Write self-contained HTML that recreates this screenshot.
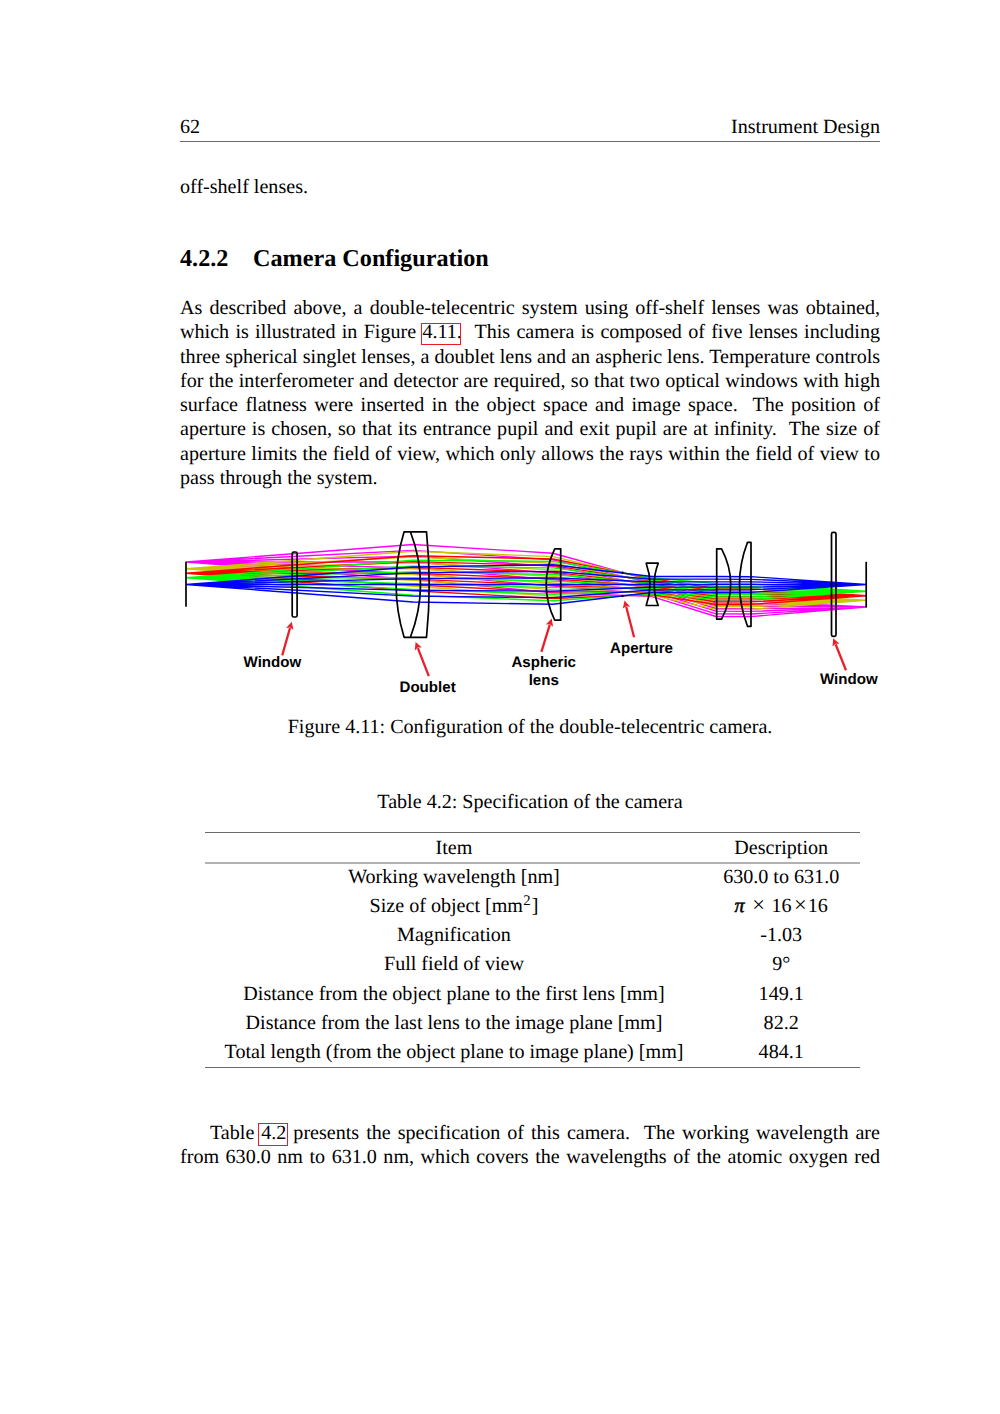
<!DOCTYPE html>
<html><head><meta charset="utf-8"><style>
html,body{margin:0;padding:0;background:#fff;}
body{width:1000px;height:1414px;position:relative;overflow:hidden;text-rendering:geometricPrecision;font-variant-ligatures:common-ligatures discretionary-ligatures;font-family:"Liberation Serif","Times New Roman",serif;color:#000;}
.l{position:absolute;white-space:nowrap;}
.c{text-align:center;}
.b{font-weight:bold;}
.rule{position:absolute;}
.lk{}
.pi{-webkit-text-stroke:0.5px #000;}
.mx{font-size:1.12em;line-height:0;}
.bx{position:absolute;box-sizing:border-box;border:1.3px solid #ec1c24;}
sup{font-size:73%;line-height:0;vertical-align:0.48em;margin-left:0.3px;margin-right:1.2px;}
</style></head><body>
<div class="l " style="top:116.87px;left:180px;width:700px;font-size:20.1px;line-height:20.1px;">62</div>
<div class="l" style="top:116.87px;left:180px;width:700px;font-size:20.1px;line-height:20.1px;text-align:right;">Instrument Design</div>
<div class="rule" style="top:140.5px;left:180px;width:700px;height:1px;background:#6a6a6a;"></div>
<div class="l " style="top:177.37px;left:180px;width:700px;font-size:20.1px;line-height:20.1px;">off-shelf lenses.</div>
<div class="l b" style="top:246.93px;left:180px;font-size:24.2px;line-height:24.2px;">4.2.2</div>
<div class="l b" style="top:246.93px;left:253px;font-size:24.2px;line-height:24.2px;">Camera Configuration</div>
<div class="l " style="top:298.07px;left:180px;width:700px;font-size:20.1px;line-height:20.1px;text-align:justify;text-align-last:justify;">As described above, a double-telecentric system using off-shelf lenses was obtained,</div>
<div class="l " style="top:322.34px;left:180px;width:700px;font-size:20.1px;line-height:20.1px;text-align:justify;text-align-last:justify;">which is illustrated in Figure <span class="lk">4.11</span>. &nbsp;This camera is composed of five lenses including</div>
<div class="l " style="top:346.61px;left:180px;width:700px;font-size:20.1px;line-height:20.1px;text-align:justify;text-align-last:justify;">three spherical singlet lenses, a doublet lens and an aspheric lens. Temperature controls</div>
<div class="l " style="top:370.88px;left:180px;width:700px;font-size:20.1px;line-height:20.1px;text-align:justify;text-align-last:justify;">for the interferometer and detector are required, so that two optical windows with high</div>
<div class="l " style="top:395.15px;left:180px;width:700px;font-size:20.1px;line-height:20.1px;text-align:justify;text-align-last:justify;">surface flatness were inserted in the object space and image space. &nbsp;The position of</div>
<div class="l " style="top:419.42px;left:180px;width:700px;font-size:20.1px;line-height:20.1px;text-align:justify;text-align-last:justify;">aperture is chosen, so that its entrance pupil and exit pupil are at infinity. &nbsp;The size of</div>
<div class="l " style="top:443.69px;left:180px;width:700px;font-size:20.1px;line-height:20.1px;text-align:justify;text-align-last:justify;">aperture limits the field of view, which only allows the rays within the field of view to</div>
<div class="l " style="top:467.96px;left:180px;width:700px;font-size:20.1px;line-height:20.1px;">pass through the system.</div>
<div class="bx" style="left:420.9px;top:323px;width:39.8px;height:22.4px;"></div>
<div class="bx" style="left:258.25px;top:1123.25px;width:29.75px;height:22.25px;"></div>
<svg style="position:absolute;left:0;top:500px" width="1000" height="220" viewBox="0 500 1000 220">
<g fill="none" stroke-width="1.35" stroke-linejoin="round">
<path stroke="#ff00ff" d="M186.0,562.00 L413.0,544.50 L553.0,553.25 L624.0,572.87 L652.0,580.60 L716.0,600.50 L751.0,601.00 L866.0,607.00 M186.0,562.00 L413.0,550.33 L553.0,559.83 L624.0,576.63 L652.0,583.27 L716.0,603.17 L751.0,603.60 L866.0,607.00 M186.0,562.00 L413.0,556.17 L553.0,566.41 L624.0,580.39 L652.0,585.93 L716.0,605.83 L751.0,606.20 L866.0,607.00 M186.0,562.00 L413.0,562.00 L553.0,572.99 L624.0,584.16 L652.0,588.60 L716.0,608.50 L751.0,608.80 L866.0,607.00 M186.0,562.00 L413.0,567.83 L553.0,579.58 L624.0,587.92 L652.0,591.27 L716.0,611.17 L751.0,611.40 L866.0,607.00 M186.0,562.00 L413.0,573.67 L553.0,586.16 L624.0,591.69 L652.0,593.93 L716.0,613.83 L751.0,614.00 L866.0,607.00 M186.0,562.00 L413.0,579.50 L553.0,592.74 L624.0,595.45 L652.0,596.60 L716.0,616.50 L751.0,616.60 L866.0,607.00"/>
<path stroke="#c8c800" d="M186.0,568.75 L413.0,551.25 L553.0,556.70 L624.0,572.97 L652.0,579.37 L716.0,593.30 L751.0,593.71 L866.0,600.25 M186.0,568.75 L413.0,557.08 L553.0,563.28 L624.0,576.73 L652.0,582.04 L716.0,595.97 L751.0,596.31 L866.0,600.25 M186.0,568.75 L413.0,562.92 L553.0,569.87 L624.0,580.50 L652.0,584.70 L716.0,598.63 L751.0,598.91 L866.0,600.25 M186.0,568.75 L413.0,568.75 L553.0,576.45 L624.0,584.26 L652.0,587.37 L716.0,601.30 L751.0,601.51 L866.0,600.25 M186.0,568.75 L413.0,574.58 L553.0,583.03 L624.0,588.02 L652.0,590.04 L716.0,603.97 L751.0,604.11 L866.0,600.25 M186.0,568.75 L413.0,580.42 L553.0,589.61 L624.0,591.79 L652.0,592.70 L716.0,606.63 L751.0,606.71 L866.0,600.25 M186.0,568.75 L413.0,586.25 L553.0,596.19 L624.0,595.55 L652.0,595.37 L716.0,609.30 L751.0,609.31 L866.0,600.25"/>
<path stroke="#ff0000" d="M186.0,573.25 L413.0,555.75 L553.0,559.00 L624.0,573.04 L652.0,578.55 L716.0,588.50 L751.0,588.85 L866.0,595.75 M186.0,573.25 L413.0,561.58 L553.0,565.59 L624.0,576.80 L652.0,581.22 L716.0,591.17 L751.0,591.45 L866.0,595.75 M186.0,573.25 L413.0,567.42 L553.0,572.17 L624.0,580.56 L652.0,583.88 L716.0,593.83 L751.0,594.05 L866.0,595.75 M186.0,573.25 L413.0,573.25 L553.0,578.75 L624.0,584.33 L652.0,586.55 L716.0,596.50 L751.0,596.65 L866.0,595.75 M186.0,573.25 L413.0,579.08 L553.0,585.33 L624.0,588.09 L652.0,589.22 L716.0,599.17 L751.0,599.25 L866.0,595.75 M186.0,573.25 L413.0,584.92 L553.0,591.91 L624.0,591.86 L652.0,591.88 L716.0,601.83 L751.0,601.85 L866.0,595.75 M186.0,573.25 L413.0,590.75 L553.0,598.49 L624.0,595.62 L652.0,594.55 L716.0,604.50 L751.0,604.45 L866.0,595.75"/>
<path stroke="#00ff00" d="M186.0,577.75 L413.0,560.25 L553.0,561.31 L624.0,573.11 L652.0,577.73 L716.0,583.70 L751.0,583.99 L866.0,591.25 M186.0,577.75 L413.0,566.08 L553.0,567.89 L624.0,576.87 L652.0,580.40 L716.0,586.37 L751.0,586.59 L866.0,591.25 M186.0,577.75 L413.0,571.92 L553.0,574.47 L624.0,580.63 L652.0,583.06 L716.0,589.03 L751.0,589.19 L866.0,591.25 M186.0,577.75 L413.0,577.75 L553.0,581.05 L624.0,584.40 L652.0,585.73 L716.0,591.70 L751.0,591.79 L866.0,591.25 M186.0,577.75 L413.0,583.58 L553.0,587.63 L624.0,588.16 L652.0,588.40 L716.0,594.37 L751.0,594.39 L866.0,591.25 M186.0,577.75 L413.0,589.42 L553.0,594.21 L624.0,591.93 L652.0,591.06 L716.0,597.03 L751.0,596.99 L866.0,591.25 M186.0,577.75 L413.0,595.25 L553.0,600.79 L624.0,595.69 L652.0,593.73 L716.0,599.70 L751.0,599.59 L866.0,591.25"/>
<path stroke="#0000ff" d="M186.0,584.50 L413.0,567.00 L553.0,564.76 L624.0,573.21 L652.0,576.50 L716.0,576.50 L751.0,576.70 L866.0,584.50 M186.0,584.50 L413.0,572.83 L553.0,571.34 L624.0,576.97 L652.0,579.17 L716.0,579.17 L751.0,579.30 L866.0,584.50 M186.0,584.50 L413.0,578.67 L553.0,577.92 L624.0,580.74 L652.0,581.83 L716.0,581.83 L751.0,581.90 L866.0,584.50 M186.0,584.50 L413.0,584.50 L553.0,584.50 L624.0,584.50 L652.0,584.50 L716.0,584.50 L751.0,584.50 L866.0,584.50 M186.0,584.50 L413.0,590.33 L553.0,591.08 L624.0,588.26 L652.0,587.17 L716.0,587.17 L751.0,587.10 L866.0,584.50 M186.0,584.50 L413.0,596.17 L553.0,597.66 L624.0,592.03 L652.0,589.83 L716.0,589.83 L751.0,589.70 L866.0,584.50 M186.0,584.50 L413.0,602.00 L553.0,604.24 L624.0,595.79 L652.0,592.50 L716.0,592.50 L751.0,592.30 L866.0,584.50"/>
</g>
<g fill="none" stroke="#000" stroke-width="1.7" stroke-linejoin="round">
<path d="M186,561.7 L186,606.7"/>
<path d="M866.2,561.8 L866.2,607.6"/>
<rect x="292.2" y="552" width="4.9" height="65" rx="1.6"/>
<rect x="831.5" y="532.3" width="4.5" height="104" rx="1.6"/>
<path d="M404.1,531.8 L410.4,531.8 Q430.6,584.5 410.4,637.3 L404.1,637.3 Q388.1,584.5 404.1,531.8 Z"/>
<path d="M410.4,531.8 L426.5,531.8 Q431.9,584.5 426.5,637.3 L410.4,637.3"/>
<path d="M554.7,548.8 L560.7,548.8 L560.7,620.2 L554.7,620.2 Q537.7,584.5 554.7,548.8 Z"/>
<path d="M646.2,563.2 L658.2,563.2 Q650.2,584.4 658.2,605.5 L646.2,605.5 Q653.8,584.4 646.2,563.2 Z"/>
<path d="M716.7,548.9 L721.6,548.9 Q739.8,584.0 721.6,619.2 L716.7,619.2 Z"/>
<path d="M747.5,542.3 L751,542.3 L751,626.3 L747.5,626.3 Q731.5,584.3 747.5,542.3 Z"/>
</g>
<circle cx="622.6" cy="572.6" r="1.1" fill="#000"/><circle cx="622.6" cy="595.9" r="1.1" fill="#000"/>
<line x1="282.2" y1="655.4" x2="290.0" y2="628.0" stroke="#e8202a" stroke-width="2.3"/>
<path fill="#e8202a" d="M291.8,621.8 L293.4,630.1 L290.2,627.6 L286.1,628.0 Z"/>
<line x1="428.8" y1="676.2" x2="417.9" y2="648.1" stroke="#e8202a" stroke-width="2.3"/>
<path fill="#e8202a" d="M415.6,642 L421.8,647.6 L417.8,647.6 L414.8,650.4 Z"/>
<line x1="541.4" y1="651.8" x2="549.8" y2="624.7" stroke="#e8202a" stroke-width="2.3"/>
<path fill="#e8202a" d="M551.7,618.5 L553.1,626.8 L549.9,624.2 L545.9,624.5 Z"/>
<line x1="634.1" y1="637.3" x2="626.2" y2="606.7" stroke="#e8202a" stroke-width="2.3"/>
<path fill="#e8202a" d="M624.6,600.4 L630.1,606.7 L626.1,606.2 L622.8,608.6 Z"/>
<line x1="846" y1="670.2" x2="835.6" y2="644.2" stroke="#e8202a" stroke-width="2.3"/>
<path fill="#e8202a" d="M833.2,638.2 L839.5,643.8 L835.4,643.8 L832.5,646.6 Z"/>
<g font-family="Liberation Sans, Arial, sans-serif" font-weight="bold" font-size="15.1" fill="#000" text-anchor="middle">
<text x="272.4" y="667.4">Window</text>
<text x="427.6" y="692.4">Doublet</text>
<text x="543.7" y="667">Aspheric</text>
<text x="543.75" y="685">lens</text>
<text x="641.5" y="653.3">Aperture</text>
<text x="848.8" y="683.8">Window</text>
</g></svg>
<div class="l c " style="top:716.77px;left:130px;width:800px;font-size:20.1px;line-height:20.1px;">Figure 4.11: Configuration of the double-telecentric camera.</div>
<div class="l c " style="top:792.07px;left:130px;width:800px;font-size:20.1px;line-height:20.1px;">Table 4.2: Specification of the camera</div>
<div class="rule" style="top:832px;left:205px;width:655px;height:1px;background:#6a6a6a;"></div>
<div class="rule" style="top:862px;left:205px;width:655px;height:2px;background:#b2b2b2;"></div>
<div class="rule" style="top:1067px;left:205px;width:655px;height:1px;background:#6a6a6a;"></div>
<div class="l c " style="top:837.67px;left:54px;width:800px;font-size:20.1px;line-height:20.1px;">Item</div>
<div class="l c " style="top:837.67px;left:381.20000000000005px;width:800px;font-size:20.1px;line-height:20.1px;">Description</div>
<div class="l c " style="top:866.86px;left:54px;width:800px;font-size:20.1px;line-height:20.1px;">Working wavelength [nm]</div>
<div class="l c " style="top:866.86px;left:381.20000000000005px;width:800px;font-size:20.1px;line-height:20.1px;">630.0 to 631.0</div>
<div class="l c " style="top:896.05px;left:54px;width:800px;font-size:20.1px;line-height:20.1px;">Size of object [mm<sup>2</sup>]</div>
<div class="l c " style="top:896.05px;left:381.20000000000005px;width:800px;font-size:20.1px;line-height:20.1px;"><i class="pi">&pi;</i><span class="mx" style="margin:0 6.5px 0 7.5px">&times;</span>16<span class="mx" style="margin:0 1px 0 2.5px">&times;</span>16</div>
<div class="l c " style="top:925.24px;left:54px;width:800px;font-size:20.1px;line-height:20.1px;">Magnification</div>
<div class="l c " style="top:925.24px;left:381.20000000000005px;width:800px;font-size:20.1px;line-height:20.1px;">-1.03</div>
<div class="l c " style="top:954.43px;left:54px;width:800px;font-size:20.1px;line-height:20.1px;">Full field of view</div>
<div class="l c " style="top:954.43px;left:381.20000000000005px;width:800px;font-size:20.1px;line-height:20.1px;">9&deg;</div>
<div class="l c " style="top:983.62px;left:54px;width:800px;font-size:20.1px;line-height:20.1px;">Distance from the object plane to the first lens [mm]</div>
<div class="l c " style="top:983.62px;left:381.20000000000005px;width:800px;font-size:20.1px;line-height:20.1px;">149.1</div>
<div class="l c " style="top:1012.81px;left:54px;width:800px;font-size:20.1px;line-height:20.1px;">Distance from the last lens to the image plane [mm]</div>
<div class="l c " style="top:1012.81px;left:381.20000000000005px;width:800px;font-size:20.1px;line-height:20.1px;">82.2</div>
<div class="l c " style="top:1042.00px;left:54px;width:800px;font-size:20.1px;line-height:20.1px;">Total length (from the object plane to image plane) [mm]</div>
<div class="l c " style="top:1042.00px;left:381.20000000000005px;width:800px;font-size:20.1px;line-height:20.1px;">484.1</div>
<div class="l " style="top:1123.07px;left:210px;width:670px;font-size:20.1px;line-height:20.1px;text-align:justify;text-align-last:justify;">Table <span class="lk">4.2</span> presents the specification of this camera. &nbsp;The working wavelength are</div>
<div class="l " style="top:1146.87px;left:180px;width:700px;font-size:20.1px;line-height:20.1px;text-align:justify;text-align-last:justify;">from 630.0 nm to 631.0 nm, which covers the wavelengths of the atomic oxygen red</div>
</body></html>
